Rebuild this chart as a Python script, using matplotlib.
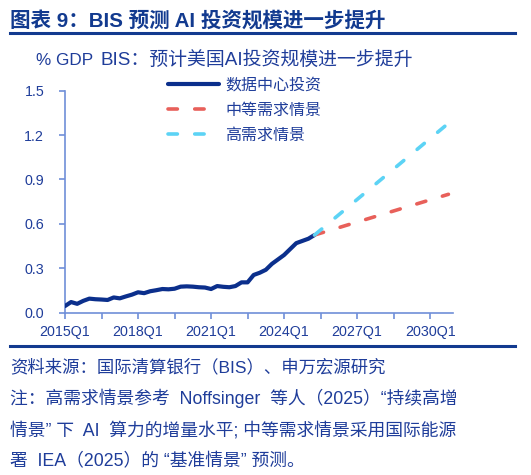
import matplotlib
matplotlib.use("Agg")
import matplotlib.pyplot as plt
from matplotlib.lines import Line2D

plt.rcParams['font.family'] = ['Liberation Sans', 'Noto Sans CJK SC']

# quarters 2015Q1 .. 2030Q4
quarters = [f"{y}Q{q}" for y in range(2015, 2031) for q in range(1, 5)]

hist_vals = [0.045, 0.072, 0.060, 0.080, 0.095, 0.091, 0.089, 0.086, 0.103, 0.097,
             0.110, 0.122, 0.138, 0.132, 0.145, 0.152, 0.160, 0.158, 0.162, 0.176,
             0.178, 0.176, 0.172, 0.170, 0.160, 0.180, 0.175, 0.172, 0.180, 0.205,
             0.205, 0.255, 0.270, 0.290, 0.330, 0.360, 0.390, 0.430, 0.470, 0.485,
             0.500, 0.525]
fc_quarters = ["2025Q2", "2030Q4"]
mid_vals = [0.525, 0.80]
high_vals = [0.525, 1.28]

tick_labels = ["2015Q1", "2018Q1", "2021Q1", "2024Q1", "2027Q1", "2030Q1"]

navy = '#0B2F8C'
red = '#E8605A'
cyan = '#5CD3F5'
txt = '#1F3D9A'
axcol = '#6F8FD8'
rule = '#123A8F'

fig = plt.figure(figsize=(5.31, 4.75), dpi=100)
ax = fig.add_axes([65/531, 1-312.7/475, (453.3-65)/531, (312.7-90.7)/475])

xh = [quarters.index(q) for q in quarters[:len(hist_vals)]]
xf = [quarters.index(q) for q in fc_quarters]

ax.plot(xh, hist_vals, color=navy, lw=3.0, solid_capstyle='round', solid_joinstyle='round', zorder=3)
l1, = ax.plot(xf, mid_vals, color=red, lw=2.6, dash_capstyle='round', zorder=4)
l2, = ax.plot(xf, high_vals, color=cyan, lw=2.6, dash_capstyle='round', zorder=5)
l1.set_dashes((2.6, 4.8))
l2.set_dashes((2.6, 4.8))

ax.set_xlim(0, 63.8)
ax.set_ylim(0, 1.5)
ax.set_yticks([0, 0.3, 0.6, 0.9, 1.2, 1.5])
ax.set_yticklabels(['0.0', '0.3', '0.6', '0.9', '1.2', '1.5'])
ax.set_xticks(range(0, 61, 6))
ax.set_xticklabels([quarters[i] if quarters[i] in tick_labels else '' for i in range(0, 61, 6)])

for s in ['top', 'right']:
    ax.spines[s].set_visible(False)
for s in ['left', 'bottom']:
    ax.spines[s].set_color(axcol)
    ax.spines[s].set_linewidth(1.2)
ax.tick_params(colors=axcol, length=4, width=1.2, labelsize=10.3, labelcolor=txt)
ax.tick_params(axis='x', pad=5)
ax.tick_params(axis='y', pad=11)

h = [Line2D([], [], color=navy, lw=3.0, solid_capstyle='round'),
     Line2D([], [], color=red, lw=2.6, dash_capstyle='round', dashes=(2.6, 4.8)),
     Line2D([], [], color=cyan, lw=2.6, dash_capstyle='round', dashes=(2.6, 4.8))]
leg = ax.legend(h, ['数据中心投资', '中等需求情景', '高需求情景'], loc='upper left',
                bbox_to_anchor=(168/531, 1-78/475), bbox_transform=fig.transFigure,
                frameon=False, fontsize=11.5, handlelength=3.2, handletextpad=0.4,
                labelspacing=0.62, borderpad=0, borderaxespad=0)
for t in leg.get_texts():
    t.set_color(txt)

# title and rules
fig.text(10/531, 1-27/475, '图表 9：BIS 预测 AI 投资规模进一步提升', fontsize=14.8,
         fontweight='bold', color=rule, va='baseline')
fig.add_artist(Line2D([10/531, 515/531], [1-32.7/475, 1-32.7/475], color=rule, lw=2.2))
fig.add_artist(Line2D([10/531, 515/531], [1-345.5/475, 1-345.5/475], color=rule, lw=2.2))

fig.text(36/531, 1-65/475, '% GDP', fontsize=12.3, color=txt, va='baseline')
fig.text(100/531, 1-65/475, 'BIS：预计美国AI投资规模进一步提升', fontsize=13.6, color=txt, va='baseline')

notes = ['资料来源：国际清算银行（BIS）、申万宏源研究',
         '注：高需求情景参考  Noffsinger  等人（2025）“持续高增',
         '情景” 下  AI  算力的增量水平; 中等需求情景采用国际能源',
         '署  IEA（2025）的 “基准情景” 预测。']
sizes = [12.5, 12.8, 12.8, 12.8]
base = [372, 404, 435, 466]
for n, fs, b in zip(notes, sizes, base):
    fig.text(10/531, 1-b/475, n, fontsize=fs, color=txt, va='baseline')

fig.savefig('out.png', dpi=100)
